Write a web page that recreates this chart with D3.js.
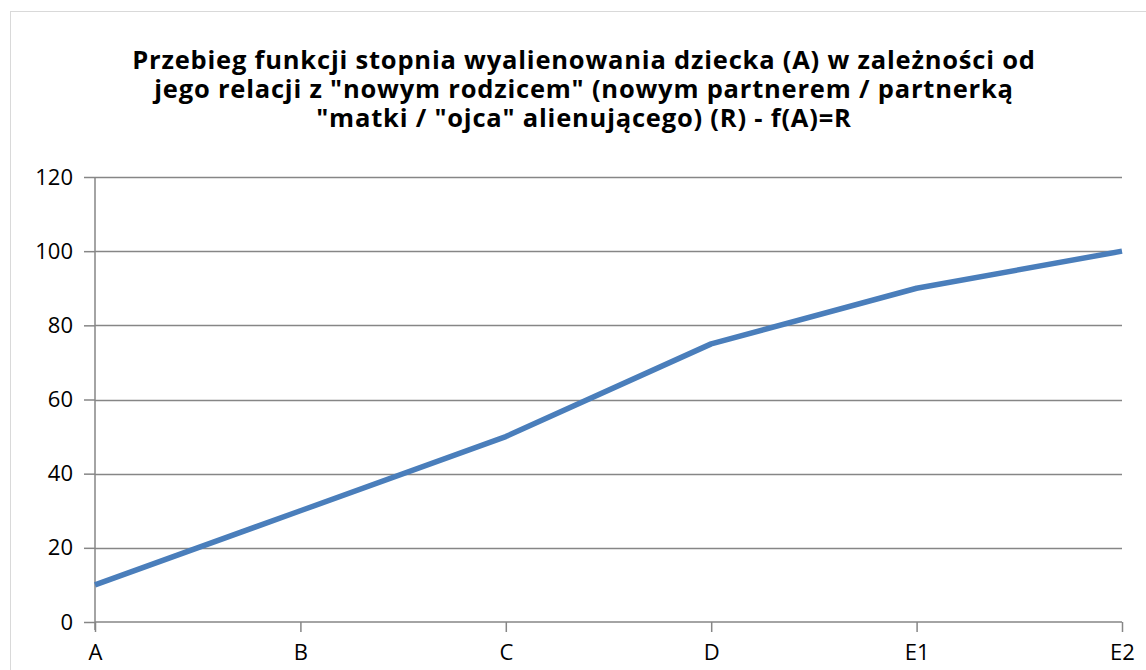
<!DOCTYPE html>
<html><head><meta charset="utf-8">
<script src="https://cdn.jsdelivr.net/npm/d3@7"></script>
<style>body{margin:0;background:#fff;}svg{display:block;}</style>
</head><body>
<svg id="c" width="1146" height="670"></svg>
<script>
const categories = ["A","B","C","D","E1","E2"];
const values = [10,30,50,75,90,100];
const yTicks = [0,20,40,60,80,100,120];
const titleLines = [
  "Przebieg funkcji stopnia wyalienowania dziecka (A) w zależności od",
  "jego relacji z \"nowym rodzicem\" (nowym partnerem / partnerką",
  "\"matki / \"ojca\" alienującego) (R) - f(A)=R"
];

const svg = d3.select("#c");
const font = "'Open Sans', sans-serif";
svg.append("rect").attr("x",10.5).attr("y",11.5).attr("width",1200).attr("height",700)
  .attr("fill","#fff").attr("stroke","#d9d9d9").attr("stroke-width",1);

const pL=95, pR=1122, pT=177, pB=622;
const x = d3.scalePoint().domain(categories).range([pL,pR]);
const y = d3.scaleLinear().domain([0,120]).range([pB,pT]);

const t = svg.append("text").attr("text-anchor","middle").attr("font-family",font)
  .attr("font-weight","bold").attr("font-size",25.5).attr("letter-spacing",0.8).attr("fill","#000");
titleLines.forEach((l,i)=>t.append("tspan").attr("x",584).attr("y",69+i*29).text(l));

// gridlines
svg.append("g").selectAll("line").data(yTicks.filter(d=>d>0)).join("line")
  .attr("x1",pL).attr("x2",pR).attr("y1",d=>Math.round(y(d))+0.5).attr("y2",d=>Math.round(y(d))+0.5)
  .attr("stroke","#868686").attr("stroke-width",1.5);

const yAxis = svg.append("g").attr("transform",`translate(${pL},0)`)
  .call(d3.axisLeft(y).tickValues(yTicks).tickSize(11).tickPadding(11));
yAxis.select(".domain").attr("stroke","#868686").attr("stroke-width",1.5).attr("d",`M0,${pT}V${pB+8}`);
yAxis.selectAll(".tick line").attr("stroke","#868686").attr("stroke-width",1.5);
yAxis.selectAll("text").attr("font-family",font).attr("font-size",22).attr("fill","#000");

const xAxis = svg.append("g").attr("transform",`translate(0,${pB})`)
  .call(d3.axisBottom(x).tickSize(10).tickPadding(12));
xAxis.select(".domain").attr("stroke","#868686").attr("stroke-width",1.5).attr("d",`M${pL},0H${pR}`);
xAxis.selectAll(".tick line").attr("stroke","#868686").attr("stroke-width",1.5);
xAxis.selectAll("text").attr("font-family",font).attr("font-size",22).attr("fill","#000");

svg.append("path").datum(values)
  .attr("d", d3.line().x((d,i)=>x(categories[i])).y(d=>y(d)))
  .attr("fill","none").attr("stroke","#4a7ebb").attr("stroke-width",5.5).attr("stroke-linejoin","round");
</script>
</body></html>
